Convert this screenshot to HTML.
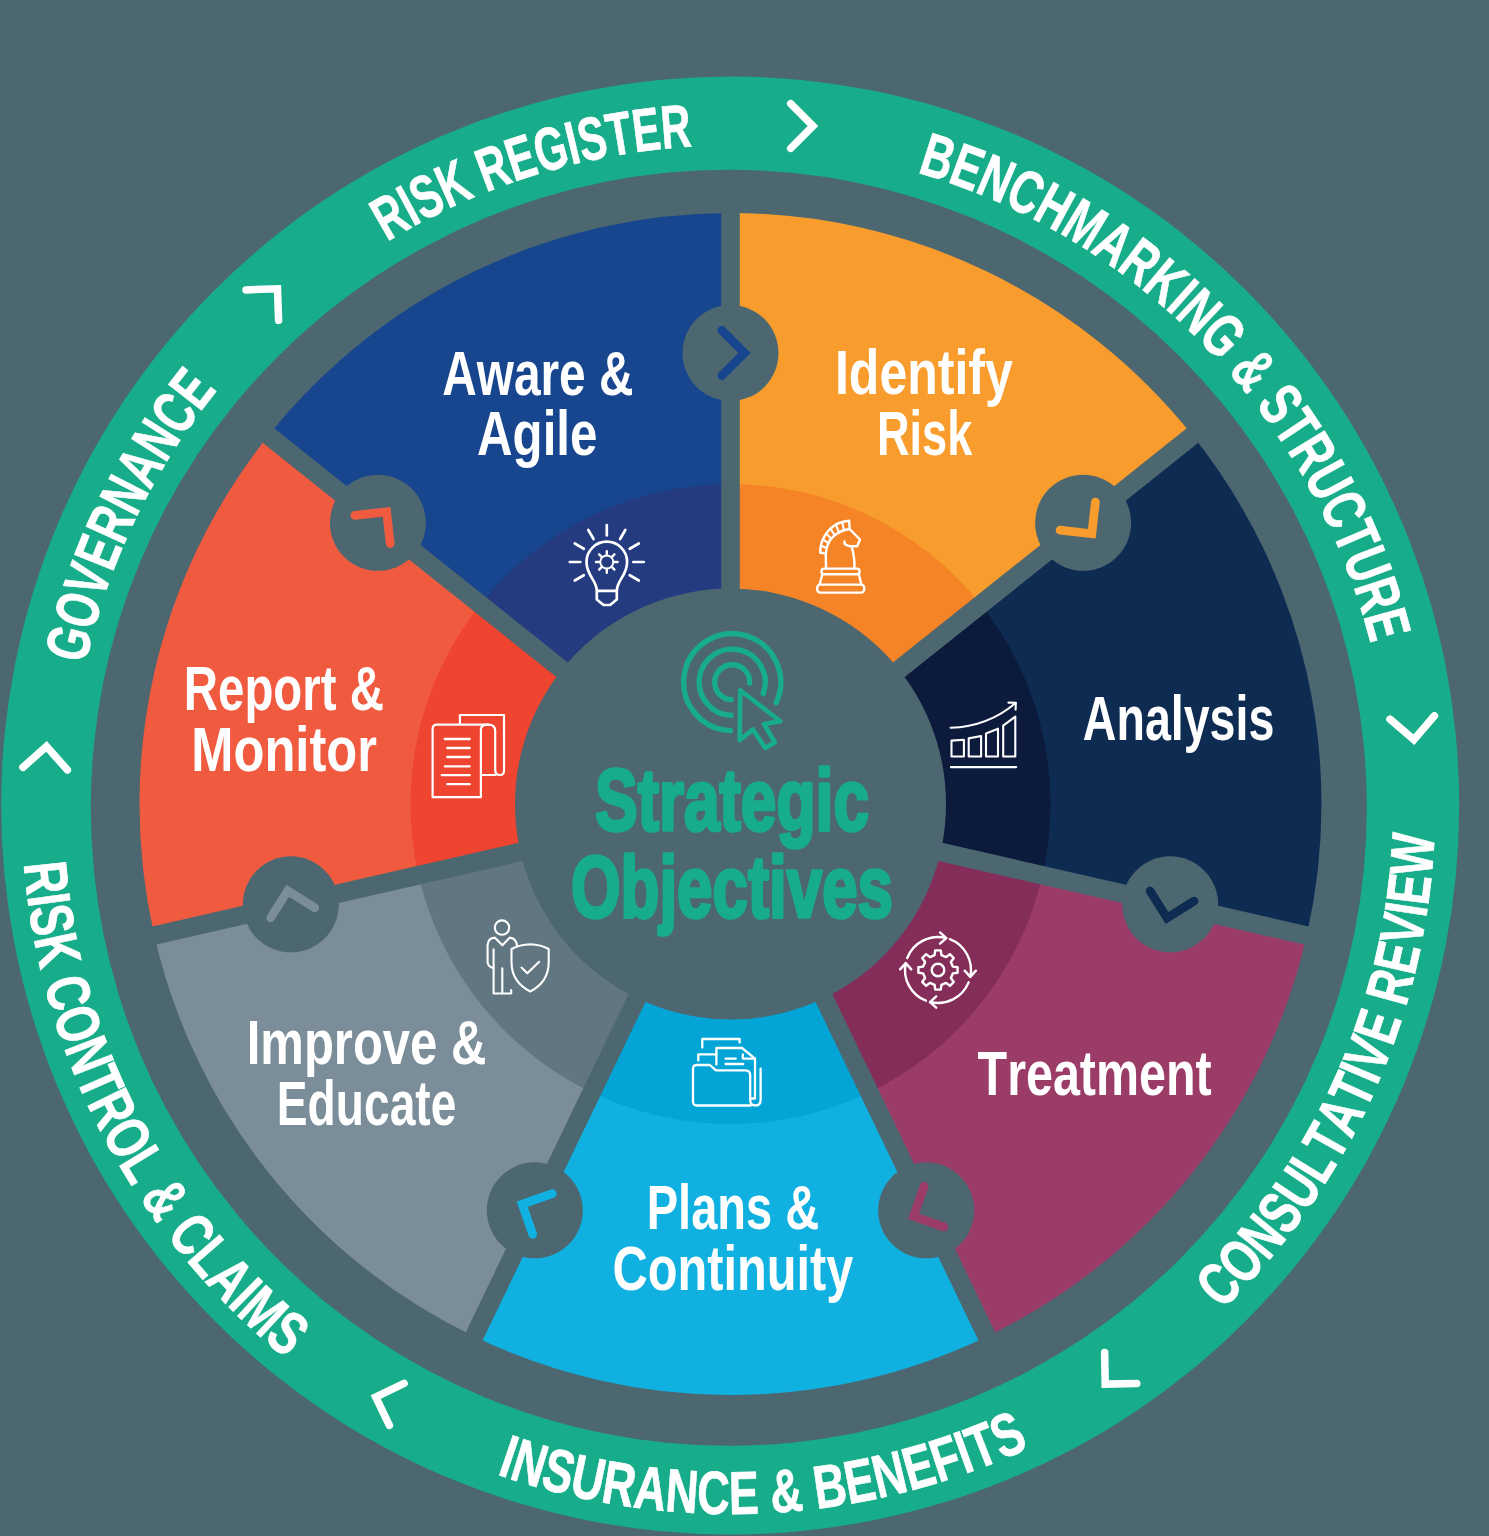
<!DOCTYPE html>
<html><head><meta charset="utf-8"><style>
html,body{margin:0;padding:0;background:#4c6770;width:1489px;height:1536px;overflow:hidden}
svg{display:block}
text{font-family:"Liberation Sans",sans-serif;font-weight:bold;font-kerning:none}
.rt{fill:#fff;stroke:#fff;stroke-width:0.7}
.lb{fill:#fff}
.ct{fill:#17ad8a;stroke:#17ad8a;stroke-width:3.6;stroke-linejoin:round}
</style></head><body>
<svg width="1489" height="1536" viewBox="0 0 1489 1536"><defs><path id="rp0" d="M387.13,241.77 A660.5,660.5 0 0 1 715.24,145.68"/><path id="rp1" d="M916.99,172.37 A660.5,660.5 0 0 1 1376.04,666.23"/><path id="rp2" d="M1222.27,1310.46 A704.5,704.5 0 0 0 1434.99,810.48"/><path id="rp3" d="M496.43,1474.19 A708.0,708.0 0 0 0 1051.73,1436.93"/><path id="rp4" d="M23.85,863.66 A709,709 0 0 0 305.68,1373.63"/><path id="rp5" d="M85.39,664.24 A660.5,660.5 0 0 1 232.3,372.34"/></defs><rect width="1489" height="1536" fill="#4c6770"/><circle cx="730.2" cy="805.5" r="729" fill="#17ad8a"/><circle cx="728.8" cy="807.8" r="638" fill="#4c6770"/><path d="M730.5,804 L730.5,213 A591,591 0 0 1 1192.56,435.52 Z" fill="#f89d2d"/><path d="M730.5,804 L730.5,484 A320,320 0 0 1 980.69,604.48 Z" fill="#f58426"/><path d="M730.5,804 L1192.56,435.52 A591,591 0 0 1 1306.68,935.51 Z" fill="#0e2b52"/><path d="M730.5,804 L980.69,604.48 A320,320 0 0 1 1042.48,875.21 Z" fill="#0c1a3b"/><path d="M730.5,804 L1306.68,935.51 A591,591 0 0 1 986.93,1336.47 Z" fill="#9b3b68"/><path d="M730.5,804 L1042.48,875.21 A320,320 0 0 1 869.34,1092.31 Z" fill="#842d59"/><path d="M730.5,804 L986.93,1336.47 A591,591 0 0 1 474.07,1336.47 Z" fill="#10b1e0"/><path d="M730.5,804 L869.34,1092.31 A320,320 0 0 1 591.66,1092.31 Z" fill="#03a4d6"/><path d="M730.5,804 L474.07,1336.47 A591,591 0 0 1 154.32,935.51 Z" fill="#7a8d98"/><path d="M730.5,804 L591.66,1092.31 A320,320 0 0 1 418.52,875.21 Z" fill="#617681"/><path d="M730.5,804 L154.32,935.51 A591,591 0 0 1 268.44,435.52 Z" fill="#f05b40"/><path d="M730.5,804 L418.52,875.21 A320,320 0 0 1 480.31,604.48 Z" fill="#ee4430"/><path d="M730.5,804 L268.44,435.52 A591,591 0 0 1 730.5,213 Z" fill="#17468e"/><path d="M730.5,804 L480.31,604.48 A320,320 0 0 1 730.5,484 Z" fill="#243b80"/><circle cx="730.5" cy="804" r="215.5" fill="#4c6770"/><rect x="721.2" y="203" width="18.6" height="601" fill="#4c6770" transform="rotate(0 730.5 804)"/><rect x="721.2" y="203" width="18.6" height="601" fill="#4c6770" transform="rotate(51.43 730.5 804)"/><rect x="721.2" y="203" width="18.6" height="601" fill="#4c6770" transform="rotate(102.86 730.5 804)"/><rect x="721.2" y="203" width="18.6" height="601" fill="#4c6770" transform="rotate(154.29 730.5 804)"/><rect x="721.2" y="203" width="18.6" height="601" fill="#4c6770" transform="rotate(205.71 730.5 804)"/><rect x="721.2" y="203" width="18.6" height="601" fill="#4c6770" transform="rotate(257.14 730.5 804)"/><rect x="721.2" y="203" width="18.6" height="601" fill="#4c6770" transform="rotate(308.57 730.5 804)"/><circle cx="730.5" cy="353" r="48" fill="#4c6770"/><path transform="translate(730.5 353) rotate(0)" d="M-8.6,-22.6 L14,0 L-8.6,22.6" fill="none" stroke="#17468e" stroke-width="8.7" stroke-linecap="round"/><circle cx="1083.11" cy="522.81" r="48" fill="#4c6770"/><path transform="translate(1083.11 522.81) rotate(51.43)" d="M-8.6,-22.6 L14,0 L-8.6,22.6" fill="none" stroke="#f89d2d" stroke-width="8.7" stroke-linecap="round"/><circle cx="1170.19" cy="904.36" r="48" fill="#4c6770"/><path transform="translate(1170.19 904.36) rotate(102.86)" d="M-8.6,-22.6 L14,0 L-8.6,22.6" fill="none" stroke="#0e2b52" stroke-width="8.7" stroke-linecap="round"/><circle cx="926.18" cy="1210.34" r="48" fill="#4c6770"/><path transform="translate(926.18 1210.34) rotate(154.29)" d="M-8.6,-22.6 L14,0 L-8.6,22.6" fill="none" stroke="#9b3b68" stroke-width="8.7" stroke-linecap="round"/><circle cx="534.82" cy="1210.34" r="48" fill="#4c6770"/><path transform="translate(534.82 1210.34) rotate(205.71)" d="M-8.6,-22.6 L14,0 L-8.6,22.6" fill="none" stroke="#10b1e0" stroke-width="8.7" stroke-linecap="round"/><circle cx="290.81" cy="904.36" r="48" fill="#4c6770"/><path transform="translate(290.81 904.36) rotate(257.14)" d="M-8.6,-22.6 L14,0 L-8.6,22.6" fill="none" stroke="#7a8d98" stroke-width="8.7" stroke-linecap="round"/><circle cx="377.89" cy="522.81" r="48" fill="#4c6770"/><path transform="translate(377.89 522.81) rotate(308.57)" d="M-8.6,-22.6 L14,0 L-8.6,22.6" fill="none" stroke="#f05b40" stroke-width="8.7" stroke-linecap="round"/><path transform="translate(813 126) rotate(0)" d="M-22.3,-22.3 L0,0 L-22.3,22.3" fill="none" stroke="#fff" stroke-width="7.5" stroke-linecap="round"/><path transform="translate(1413.9 739.7) rotate(85.6)" d="M-22.3,-22.3 L0,0 L-22.3,22.3" fill="none" stroke="#fff" stroke-width="7.5" stroke-linecap="round"/><path transform="translate(1105.2 1384.1) rotate(134)" d="M-22.3,-22.3 L0,0 L-22.3,22.3" fill="none" stroke="#fff" stroke-width="7.5" stroke-linecap="round"/><path transform="translate(375.7 1397) rotate(199.3)" d="M-22.3,-22.3 L0,0 L-22.3,22.3" fill="none" stroke="#fff" stroke-width="7.5" stroke-linecap="round"/><path transform="translate(46.5 746.4) rotate(273.4)" d="M-22.3,-22.3 L0,0 L-22.3,22.3" fill="none" stroke="#fff" stroke-width="7.5" stroke-linecap="round"/><path transform="translate(277.5 288.8) rotate(313)" d="M-22.3,-22.3 L0,0 L-22.3,22.3" fill="none" stroke="#fff" stroke-width="7.5" stroke-linecap="round"/><text class="rt" font-size="61"><textPath href="#rp0" textLength="322.77" lengthAdjust="spacingAndGlyphs">RISK REGISTER</textPath></text><text class="rt" font-size="61"><textPath href="#rp1" textLength="684.55" lengthAdjust="spacingAndGlyphs">BENCHMARKING &amp; STRUCTURE</textPath></text><text class="rt" font-size="61"><textPath href="#rp2" textLength="533.21" lengthAdjust="spacingAndGlyphs">CONSULTATIVE REVIEW</textPath></text><text class="rt" font-size="61"><textPath href="#rp3" textLength="547.27" lengthAdjust="spacingAndGlyphs">INSURANCE &amp; BENEFITS</textPath></text><text class="rt" font-size="61"><textPath href="#rp4" textLength="575.7" lengthAdjust="spacingAndGlyphs">RISK CONTROL &amp; CLAIMS</textPath></text><text class="rt" font-size="61"><textPath href="#rp5" textLength="307.16" lengthAdjust="spacingAndGlyphs">GOVERNANCE</textPath></text><text class="lb" x="442.21" y="394.5" font-size="63" textLength="191.28" lengthAdjust="spacingAndGlyphs">Aware &amp;</text><text class="lb" x="477.07" y="455.4" font-size="63" textLength="120.31" lengthAdjust="spacingAndGlyphs">Agile</text><text class="lb" x="834.95" y="393.5" font-size="63" textLength="177.81" lengthAdjust="spacingAndGlyphs">Identify</text><text class="lb" x="876.98" y="454.8" font-size="63" textLength="95.27" lengthAdjust="spacingAndGlyphs">Risk</text><text class="lb" x="1082.84" y="739.8" font-size="63" textLength="191.47" lengthAdjust="spacingAndGlyphs">Analysis</text><text class="lb" x="977.56" y="1095.3" font-size="63" textLength="234.14" lengthAdjust="spacingAndGlyphs">Treatment</text><text class="lb" x="646.76" y="1228.9" font-size="63" textLength="172.31" lengthAdjust="spacingAndGlyphs">Plans &amp;</text><text class="lb" x="612.5" y="1289.7" font-size="63" textLength="240.76" lengthAdjust="spacingAndGlyphs">Continuity</text><text class="lb" x="246.72" y="1063.5" font-size="63" textLength="239.61" lengthAdjust="spacingAndGlyphs">Improve &amp;</text><text class="lb" x="276.81" y="1124.6" font-size="63" textLength="179.57" lengthAdjust="spacingAndGlyphs">Educate</text><text class="lb" x="183.83" y="709.5" font-size="63" textLength="200.05" lengthAdjust="spacingAndGlyphs">Report &amp;</text><text class="lb" x="191.31" y="771.3" font-size="63" textLength="185.65" lengthAdjust="spacingAndGlyphs">Monitor</text><text class="ct" x="595" y="830" font-size="87" textLength="274" lengthAdjust="spacingAndGlyphs">Strategic</text><text class="ct" x="571" y="917" font-size="87" textLength="322" lengthAdjust="spacingAndGlyphs">Objectives</text><g fill="none" stroke="#17ad8a" stroke-width="5.4" stroke-linecap="round"><path d="M730.51,730.67 A48.5,48.5 0 1 1 776.16,702.7"/><path d="M731.05,715.18 A33,33 0 1 1 763.21,693.49"/><path d="M731.28,699.68 A17.5,17.5 0 1 1 749.68,683.12" stroke-linecap="round"/><path d="M740.2,690.2 L739.7,740.3 L753,729.4 L765.3,748.1 L774.8,742.2 L763.9,723.9 L780.3,721.2 Z" stroke-linejoin="round" stroke-width="4.6"/></g><g fill="none" stroke="#fff" stroke-linecap="round" stroke-linejoin="round" stroke-width="2.7"><path d="M583.85,575.25 L574.76,580.5 M580.3,562 L569.8,562 M583.85,548.75 L574.76,543.5 M593.55,539.05 L588.3,529.96 M606.8,535.5 L606.8,525 M620.05,539.05 L625.3,529.96 M629.75,548.75 L638.84,543.5 M633.3,562 L643.8,562 M629.75,575.25 L638.84,580.5"/><path d="M596.8,590.8 C596.8,580 586.5,576 586.5,562 A20.3,20.3 0 0 1 627.1,562 C627.1,576 616.8,580 616.8,590.8 Z M596.8,590.8 L596.8,599.5 L603.5,605 L610.1,605 L616.8,599.5 L616.8,590.8"/><circle cx="606.8" cy="562" r="6.5" stroke-width="1.9"/><path d="M606.8,555 L606.8,551.2 M611.75,557.05 L614.44,554.36 M613.8,562 L617.6,562 M611.75,566.95 L614.44,569.64 M606.8,569 L606.8,572.8 M601.85,566.95 L599.16,569.64 M599.8,562 L596,562 M601.85,557.05 L599.16,554.36" stroke-width="2.4"/></g><g fill="none" stroke="#fff" stroke-linecap="round" stroke-linejoin="round" stroke-width="2.4"><rect x="817.2" y="584.6" width="47" height="8" rx="3"/><path d="M819.6,584.6 L822.3,574.2 M861.4,584.6 L858.8,574.2"/><rect x="821.4" y="568.6" width="38.2" height="5.6" rx="2.8"/><path d="M826,568.6 L825.8,553.4 L820.2,552.8 C820,536 832,522 849.2,520.8 L849.6,529 C836,531 826.5,540 826,553.4"/><path d="M849.6,529 L860,539.5 L857.2,546.3 L851.6,546.3 C846.5,546.3 843.8,544 844.5,541.5 M851.6,546.3 C853.5,553 854.8,561 854.5,568.6"/><path d="M820.84,545.80 L826.75,547.93 M822.85,539.32 L828.52,543.05 M826.11,533.53 L831.22,538.80 M830.50,528.61 L834.76,535.22 M835.89,524.73 L839.06,532.37 M842.17,522.07 L844.04,530.28" stroke-width="2.1"/></g><g fill="none" stroke="#fff" stroke-linecap="round" stroke-linejoin="round" stroke-width="2.1"><path d="M950.9,767.1 L1016.2,767.1"/><path d="M951.5,740.6 L963.9,739.7 L963.9,756.5 L951.5,756.5 Z"/><path d="M968.7,738.4 L981.1,736 L981.1,756.5 L968.7,756.5 Z"/><path d="M986,733.5 L998,728.7 L998,756.5 L986,756.5 Z"/><path d="M1003.2,725.7 L1015.3,716.6 L1015.3,756.5 L1003.2,756.5 Z"/><path d="M950.6,727.8 C975,727 998,718 1015.6,703"/><path d="M1008.4,702.6 L1015.8,702.8 L1015.6,709.6"/></g><g fill="none" stroke="#fff" stroke-linecap="round" stroke-linejoin="round" stroke-width="2.4"><path d="M907.19,958.17 A33,33 0 0 1 946.26,938.05 M949.83,939.19 A33,33 0 0 1 970.28,976.86 M968.6,982.36 A33,33 0 0 1 930.02,1002.02 M925.91,1000.7 A33,33 0 0 1 905.72,963.14"/><path transform="translate(946.26 938.05) rotate(0)" d="M-6.2,-5.6 L0,0 L-6.2,5.6"/><path transform="translate(970.28 976.86) rotate(90)" d="M-6.2,-5.6 L0,0 L-6.2,5.6"/><path transform="translate(930.02 1002.02) rotate(180)" d="M-6.2,-5.6 L0,0 L-6.2,5.6"/><path transform="translate(905.72 963.14) rotate(270)" d="M-6.2,-5.6 L0,0 L-6.2,5.6"/><path d="M934.58,955.19 L935.24,950.39 L940.76,950.39 L941.42,955.19 L946.05,957.11 L949.92,954.19 L953.81,958.08 L950.89,961.95 L952.81,966.58 L957.61,967.24 L957.61,972.76 L952.81,973.42 L950.89,978.05 L953.81,981.92 L949.92,985.81 L946.05,982.89 L941.42,984.81 L940.76,989.61 L935.24,989.61 L934.58,984.81 L929.95,982.89 L926.08,985.81 L922.19,981.92 L925.11,978.05 L923.19,973.42 L918.39,972.76 L918.39,967.24 L923.19,966.58 L925.11,961.95 L922.19,958.08 L926.08,954.19 L929.95,957.11 Z"/><circle cx="938" cy="970" r="6.3"/></g><g fill="none" stroke="#fff" stroke-linecap="round" stroke-linejoin="round" stroke-width="2.3"><path d="M702.3,1047.5 L702.3,1039 L739.6,1039 L739.6,1042.5"/><path d="M698.3,1060.6 L698.3,1054.3 L716.4,1054.3"/><path d="M716.4,1064.5 L716.4,1048 L742,1048 L755,1058.6 L755,1098.5 L751,1098.5"/><path d="M742.8,1054.5 L742.8,1058.6 L755,1058.6"/><path d="M725.5,1058.6 L735.8,1058.6 M725.5,1064 L743.2,1064"/><path d="M697,1065 L709.8,1065 L716,1070.4 L745.5,1070.4 Q750.2,1070.4 750.2,1075.5 L750.2,1099.7 Q750.2,1105.5 755.5,1105.5 Q760.6,1105.5 760.6,1099.7 L760.6,1068.7 M750.8,1105.5 L697,1105.5 Q693,1105.5 693,1101.5 L693,1069 Q693,1065 697,1065"/></g><g fill="none" stroke="#fff" stroke-linecap="round" stroke-linejoin="round" stroke-width="2.1"><circle cx="502" cy="927.6" r="7.2"/><path d="M511.2,990 L511.2,993.5 L493.6,993.5 L493.6,949.3 M502.3,968.2 L502.3,993"/><path d="M517,945.5 Q516,938 509.7,937.6 L502.4,945.3 L494.7,937.6 Q488.2,938 487.6,945 L487.6,962 Q487.6,966.5 493.6,968.2"/><path d="M530.3,944.2 Q541,944.5 548.7,949 L548.7,962 Q548.7,982 530.3,991.5 Q511.5,982 511.5,962 L511.5,949 Q519.5,944.5 530.3,944.2 Z"/><path d="M521.5,967.6 L527.3,973.3 L539.2,961.8"/></g><g fill="none" stroke="#fff" stroke-linecap="round" stroke-linejoin="round" stroke-width="2.2"><path d="M459.9,724.6 L459.9,715 L504,715 L504,771 Q504,775 500,775 Q495.2,775 495.2,770 L495.2,731 Q495.2,724.6 488.4,724.6 L437,724.6 Q432.6,724.6 432.6,729 L432.6,797.2 L480.9,797.2 L480.9,775 L495.5,775"/><path d="M481,729 Q481.3,724.6 488.4,724.6 M480.9,729 L480.9,775"/><path d="M444.7,739 L469.7,739 M447.3,748 L469.7,748 M447.3,757 L469.7,757 M444.9,766.3 L469.7,766.3 M441.8,775.2 L469.7,775.2 M447.3,784.2 L469.7,784.2" stroke-width="2.3"/></g></svg>
</body></html>
